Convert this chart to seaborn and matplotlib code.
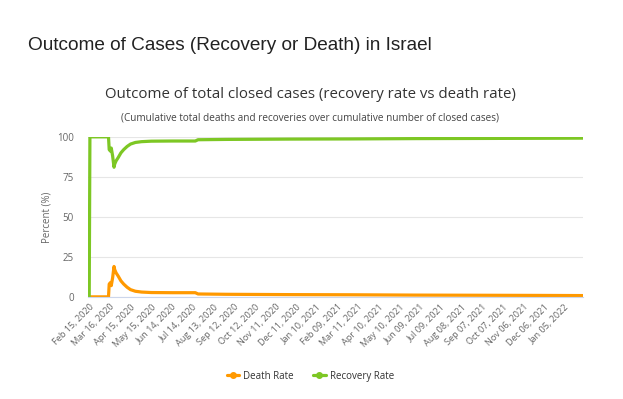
import pandas as pd
import matplotlib.pyplot as plt
from matplotlib.lines import Line2D
import seaborn as sns

# Puntos (fecha, % muertes, % recuperados)
fechas = ["2020-02-15", "2020-02-16", "2020-03-14", "2020-03-15", "2020-03-17",
          "2020-03-18", "2020-03-20", "2020-03-22", "2020-03-23", "2020-03-25",
          "2020-03-28", "2020-04-01", "2020-04-05", "2020-04-10", "2020-04-15",
          "2020-04-22", "2020-05-01", "2020-05-15", "2020-06-15", "2020-07-18",
          "2020-07-22", "2020-09-01", "2020-12-01", "2021-03-01", "2021-06-01",
          "2021-09-01", "2021-12-01", "2022-02-01"]
death_rate = [0, 0, 0, 8, 9, 7, 12, 19, 17, 15, 13, 10, 8, 6, 4.5, 3.5, 3, 2.7,
              2.6, 2.6, 1.8, 1.6, 1.4, 1.3, 1.1, 1.0, 0.9, 0.8]
recovery_rate = [0, 100, 100, 92, 91, 93, 88, 81, 83, 85, 87, 90, 92, 94, 95.5,
                 96.5, 97, 97.3, 97.4, 97.4, 98.2, 98.4, 98.6, 98.7, 98.9, 99.0,
                 99.1, 99.2]
y_ticks = [0, 25, 50, 75, 100]
tick_inicio = "2020-02-15"
n_ticks = 24

df = pd.DataFrame({'fecha': pd.to_datetime(fechas),
                   'Death Rate': death_rate,
                   'Recovery Rate': recovery_rate})

sns.set_style("white")
plt.rcParams['font.family'] = ['Open Sans', 'DejaVu Sans']

naranja = '#ff9900'
verde = '#7dc724'
gris = '#666666'

fig = plt.figure(figsize=(6.23, 3.99), dpi=100)
ax = fig.add_axes([0.141, 0.256, 0.795, 0.401])

sns.lineplot(data=df, x='fecha', y='Death Rate', ax=ax, color=naranja, linewidth=2.3)
sns.lineplot(data=df, x='fecha', y='Recovery Rate', ax=ax, color=verde, linewidth=2.3)

ticks = pd.date_range(tick_inicio, periods=n_ticks, freq='30D')
ax.set_xticks(ticks)
ax.set_xticklabels([t.strftime('%b %d, %Y') for t in ticks], rotation=45,
                   ha='right', rotation_mode='anchor', fontsize=6.6, color=gris)
ax.set_xlim(pd.Timestamp("2020-02-13"), pd.Timestamp("2022-02-01"))
ax.set_ylim(0, 100)
ax.set_yticks(y_ticks)
ax.set_yticklabels([str(v) for v in y_ticks], fontsize=7, color=gris)
ax.tick_params(axis='x', length=0, pad=4)
ax.tick_params(axis='y', length=0, pad=10)
ax.set_xlabel('')
ax.set_ylabel('Percent (%)', fontsize=7, color=gris, labelpad=3)
ax.grid(axis='y', color='#e6e6e6', linewidth=0.8)
ax.set_axisbelow(True)
for lado in ['top', 'right', 'left']:
    ax.spines[lado].set_visible(False)
ax.spines['bottom'].set_color('#ccd6eb')
ax.spines['bottom'].set_linewidth(0.8)

# Titulos
fig.text(0.045, 0.885, 'Outcome of Cases (Recovery or Death) in Israel',
         family=['Liberation Sans', 'DejaVu Sans'], fontsize=13.7, color='#222222',
         va='center')
fig.text(0.498, 0.762, 'Outcome of total closed cases (recovery rate vs death rate)',
         fontsize=10.8, color='#333333', ha='center', va='center')
fig.text(0.498, 0.705, '(Cumulative total deaths and recoveries over cumulative number of closed cases)',
         fontsize=7.2, color='#444444', ha='center', va='center')

# Leyenda
handles = [Line2D([0], [0], color=naranja, lw=2.3, marker='o', markersize=4),
           Line2D([0], [0], color=verde, lw=2.3, marker='o', markersize=4)]
fig.legend(handles, ['Death Rate', 'Recovery Rate'], loc='center',
           bbox_to_anchor=(0.498, 0.057), ncol=2, frameon=False, fontsize=7,
           handlelength=1.3, handletextpad=0.4, columnspacing=2.0,
           labelcolor='#333333')

fig.savefig('out.png', dpi=100)
